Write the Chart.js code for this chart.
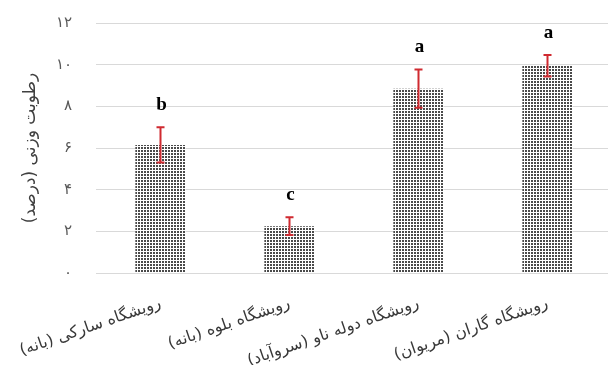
<!DOCTYPE html>
<html>
<head>
<meta charset="utf-8">
<script src="https://cdn.jsdelivr.net/npm/chart.js@4"></script>
<style>
  html, body { margin: 0; padding: 0; background: #fff; overflow: hidden; }
  #wrap { width: 612px; height: 365px; }
</style>
</head>
<body>
<div id="wrap"><canvas id="chart" width="612" height="365"></canvas></div>
<script>
// Sites and measured moisture
const categories = ['رویشگاه سارکی (بانه)', 'رویشگاه بلوه (بانه)', 'رویشگاه دوله ناو (سروآباد)', 'رویشگاه گاران (مریوان)'];
const moisture = [6.15, 2.25, 8.85, 9.95];
const moistureErr = [0.85, 0.43, 0.92, 0.52];
const groupLetters = ['b', 'c', 'a', 'a'];
const yTickLabels = ['۰', '۲', '۴', '۶', '۸', '۱۰', '۱۲'];

// Dotted fill for the bars
function makeDotPattern() {
    const c = document.createElement('canvas');
    c.width = 3;
    c.height = 3;
    const g = c.getContext('2d');
    g.fillStyle = '#ffffff';
    g.fillRect(0, 0, 3, 3);
    g.fillStyle = '#4a4a4a';
    g.fillRect(0, 0, 2, 2);
    return g.createPattern(c, 'repeat');
}

// Red whiskers on top of each bar
const errorBars = {
    id: 'errorBars',
    afterDatasetsDraw(chart) {
        const ctx = chart.ctx;
        const y = chart.scales.y;
        const meta = chart.getDatasetMeta(0);
        ctx.save();
        ctx.strokeStyle = '#d02a30';
        ctx.lineWidth = 2;
        meta.data.forEach((bar, i) => {
            const top = y.getPixelForValue(moisture[i] + moistureErr[i]);
            const bottom = y.getPixelForValue(moisture[i] - moistureErr[i]);
            ctx.beginPath();
            ctx.moveTo(bar.x, top);
            ctx.lineTo(bar.x, bottom);
            ctx.moveTo(bar.x - 4, top);
            ctx.lineTo(bar.x + 4, top);
            ctx.moveTo(bar.x - 4, bottom);
            ctx.lineTo(bar.x + 4, bottom);
            ctx.stroke();
        });
        ctx.restore();
    }
};

// Significance letters above the whiskers
const letterLabels = {
    id: 'letterLabels',
    afterDatasetsDraw(chart) {
        const ctx = chart.ctx;
        const y = chart.scales.y;
        const meta = chart.getDatasetMeta(0);
        ctx.save();
        ctx.fillStyle = '#000';
        ctx.font = 'bold 19px "Liberation Serif"';
        ctx.textAlign = 'center';
        ctx.textBaseline = 'alphabetic';
        meta.data.forEach((bar, i) => {
            const top = y.getPixelForValue(moisture[i] + moistureErr[i]);
            ctx.fillText(groupLetters[i], bar.x + 1, top - 17);
        });
        ctx.restore();
    }
};

const ctx = document.getElementById('chart').getContext('2d');
new Chart(ctx, {
    type: 'bar',
    data: {
        labels: categories,
        datasets: [{
            data: moisture,
            backgroundColor: makeDotPattern(),
            borderWidth: 0,
            categoryPercentage: 1,
            barPercentage: 0.39
        }]
    },
    options: {
        responsive: false,
        animation: false,
        layout: { padding: { top: 23, right: 0, left: 0, bottom: 0 } },
        plugins: {
            legend: { display: false },
            tooltip: { enabled: false }
        },
        scales: {
            x: {
                grid: { display: false, drawTicks: false },
                border: { display: true, color: '#d9d9d9', width: 1 },
                ticks: {
                    color: '#383838',
                    font: { family: '"DejaVu Sans"', size: 16 },
                    minRotation: 19,
                    maxRotation: 19,
                    padding: 21,
                    autoSkip: false
                },
                // rotated labels may spill left of the plot; keep the plot where it is
                afterFit(scale) {
                    scale.height = 92;
                    scale.paddingLeft = 0;
                    scale.paddingRight = 0;
                }
            },
            y: {
                min: 0,
                max: 12,
                grid: { color: '#d9d9d9', drawTicks: false },
                border: { display: false },
                ticks: {
                    stepSize: 2,
                    padding: 24,
                    color: '#595959',
                    font: { family: '"DejaVu Sans"', size: 15 },
                    callback: (value, index) => yTickLabels[index]
                },
                title: {
                    display: true,
                    text: 'رطوبت وزنی (درصد)',
                    color: '#404040',
                    font: { family: '"DejaVu Sans"', size: 17 },
                    padding: { top: 20, bottom: 0 }
                },
                afterFit(scale) {
                    scale.width = 96;
                    scale.paddingTop = 0;
                    scale.paddingBottom = 0;
                }
            }
        }
    },
    plugins: [errorBars, letterLabels]
});
</script>
</body>
</html>
